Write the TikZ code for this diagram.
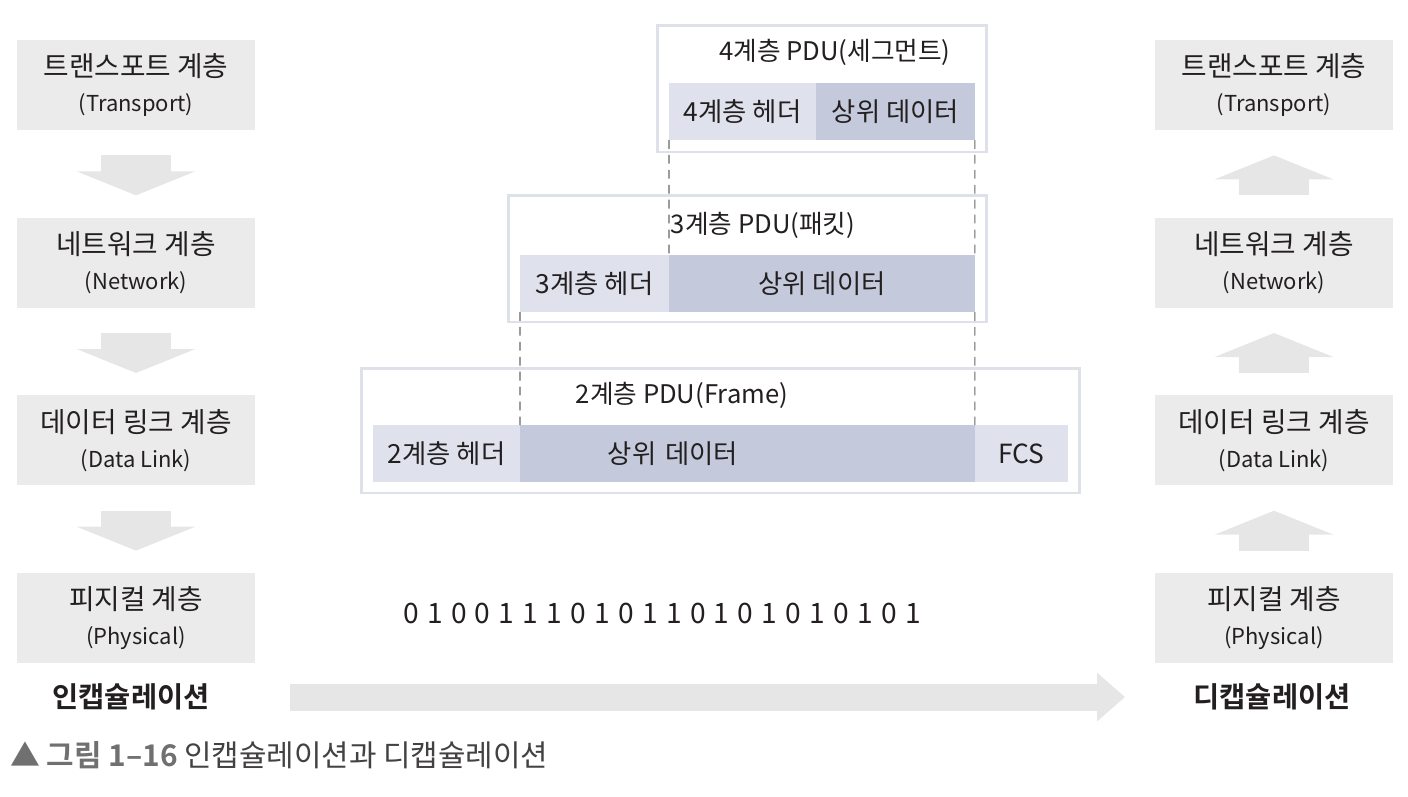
\documentclass[tikz,border=0pt]{standalone}
\usepackage{fontspec}
\setmainfont{Noto Sans CJK KR}[BoldFont={Noto Sans CJK KR Bold}]
\usetikzlibrary{arrows.meta, positioning}
\definecolor{layergray}{RGB}{235,235,235}
\definecolor{flowgray}{RGB}{230,230,230}
\definecolor{framebl}{RGB}{222,225,234}
\definecolor{headbl}{RGB}{223,226,236}
\definecolor{databl}{RGB}{196,202,219}
\definecolor{ink}{RGB}{35,31,32}
\definecolor{capgray}{RGB}{112,112,112}
\newcommand{\layerlabel}[2]{#1\\{\fontsize{12.5}{20}\selectfont #2}}

\begin{document}
\begin{tikzpicture}[x=0.02cm, y=-0.02cm,
  layer/.style={fill=layergray, minimum width=4.76cm, minimum height=1.8cm,
                inner sep=0pt, align=center, text=ink,
                font=\fontsize{15.8}{20}\selectfont},
  downflow/.style={draw=flowgray, line width=1.4cm,
                   -{Triangle[width=2.36cm,length=0.48cm]},
                   shorten <=0.5cm, shorten >=0.44cm},
  upflow/.style={draw=flowgray, line width=1.4cm,
                 -{Triangle[width=2.36cm,length=0.48cm]},
                 shorten <=0.44cm, shorten >=0.5cm},
  pduframe/.style={draw=framebl, line width=1.7pt, inner sep=0pt},
  headcell/.style={fill=headbl, minimum height=1.14cm, inner sep=0pt,
                   outer sep=0pt, text=ink, font=\fontsize{15}{18}\selectfont},
  datacell/.style={headcell, fill=databl},
  pdutitle/.style={text=ink, inner sep=0pt, font=\fontsize{14.6}{18}\selectfont},
  guide/.style={draw=black!60, line width=0.6pt, dash pattern=on 5pt off 3.5pt},
  stage/.style={text=ink, font=\bfseries\fontsize{16.2}{19}\selectfont},
  flow/.style={draw=flowgray, line width=0.54cm,
               -{Triangle[width=0.94cm,length=0.56cm]}},
  bit/.style={text=ink, inner sep=0pt, font=\fontsize{16}{18}\selectfont}
]
\useasboundingbox (0,0) rectangle (1408,796);

% sending side
\node[layer] (lt) at (136,85) {\layerlabel{트랜스포트 계층}{(Transport)}};
\node[layer, below=1.74cm of lt] (ln) {\layerlabel{네트워크 계층}{(Network)}};
\node[layer, below=1.74cm of ln] (ld) {\layerlabel{데이터 링크 계층}{(Data Link)}};
\node[layer, below=1.74cm of ld] (lp) {\layerlabel{피지컬 계층}{(Physical)}};

\draw[downflow] (lt) -- (ln);
\draw[downflow] (ln) -- (ld);
\draw[downflow] (ld) -- (lp);

% receiving side
\node[layer] (rt) at (1274,85) {\layerlabel{트랜스포트 계층}{(Transport)}};
\node[layer, below=1.74cm of rt] (rn) {\layerlabel{네트워크 계층}{(Network)}};
\node[layer, below=1.74cm of rn] (rd) {\layerlabel{데이터 링크 계층}{(Data Link)}};
\node[layer, below=1.74cm of rd] (rp) {\layerlabel{피지컬 계층}{(Physical)}};

\draw[upflow] (rp) -- (rd);
\draw[upflow] (rd) -- (rn);
\draw[upflow] (rn) -- (rt);

% PDU frames
\node[pduframe, minimum width=6.6cm, minimum height=2.54cm] (frame4) at (822,88.5) {};
\node[pduframe, minimum width=9.58cm, minimum height=2.54cm] (frame3) at (747.5,258.5) {};
\node[pduframe, minimum width=14.38cm, minimum height=2.5cm] (frame2) at (720.5,430.5) {};

\node[pdutitle] (t4) at (835,52) {4계층 PDU(세그먼트)};
\node[pdutitle] (t3) at (763,225) {3계층 PDU(패킷)};
\node[pdutitle] (t2) at (682,395) {2계층 PDU(Frame)};

\node[headcell, minimum width=2.94cm, anchor=north west] (h4) at (669,83) {4계층 헤더};
\node[datacell, minimum width=3.18cm, right=0pt of h4] (d4) {상위 데이터};

\node[headcell, minimum width=2.98cm, anchor=north west] (h3) at (520,255) {3계층 헤더};
\node[datacell, minimum width=6.12cm, right=0pt of h3] (d3) {상위 데이터};

\node[headcell, minimum width=2.94cm, anchor=north west] (h2) at (373,425) {2계층 헤더};
\node[datacell, text width=9.1cm, align=left, right=0pt of h2] (d2) {\hspace*{1.76cm}상위 데이터};
\node[headcell, minimum width=1.86cm, right=0pt of d2] (fcs) {FCS};

\draw[guide] (h4.south west) -- (d3.north west);
\draw[guide] (d4.south east) -- (d3.north east);
\draw[guide] (h3.south west) -- (d2.north west);
\draw[guide] (d3.south east) -- (d2.north east);

% bit stream
\foreach \b [count=\i from 0] in {0,1,0,0,1,1,1,0,1,0,1,1,0,1,0,1,0,1,0,1,0,1}
  \node[bit] (bit\i) at (411+23.9*\i,613) {\b};

% direction
\node[stage] (enc) at (131,697) {인캡슐레이션};
\node[stage] (dec) at (1272,697) {디캡슐레이션};
\draw[flow, shorten <=3.18cm, shorten >=2.94cm] (enc.center) -- (dec.center);

\node[anchor=west, inner sep=0pt, text=ink!85, font=\fontsize{17}{20}\selectfont] (caption) at (10,755)
  {{\color{capgray}▲ \textbf{그림 1–16}} 인캡슐레이션과 디캡슐레이션};
\end{tikzpicture}
\end{document}
